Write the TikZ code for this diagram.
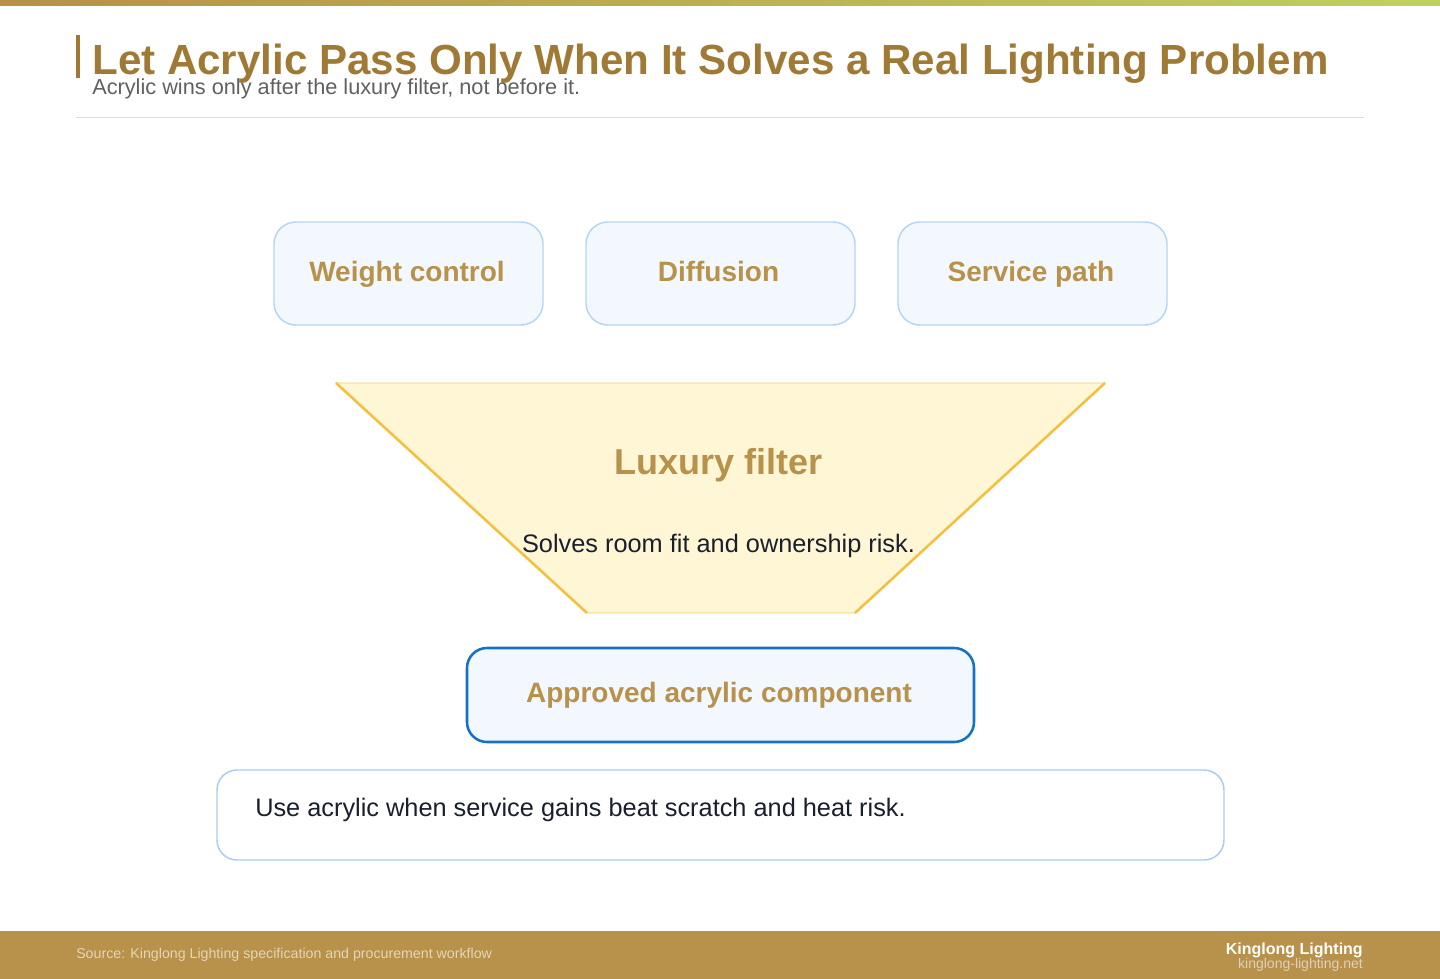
\documentclass[tikz,border=0pt]{standalone}
\usepackage{fontspec}
\setmainfont{Liberation Sans}
\definecolor{gold}{HTML}{B8914A}
\definecolor{titlegold}{HTML}{A07A35}
\definecolor{barleft}{HTML}{B89048}
\definecolor{barright}{HTML}{BFD05E}
\definecolor{boxfill}{HTML}{F3F8FE}
\definecolor{boxline}{HTML}{B5D5F5}
\definecolor{bluebold}{HTML}{1570C8}
\definecolor{notebox}{HTML}{A8CCF2}
\definecolor{funnelfill}{HTML}{FFF6D6}
\definecolor{funnelline}{HTML}{F4C03E}
\definecolor{inktext}{HTML}{1A1F2E}
\definecolor{subgray}{HTML}{606060}
\definecolor{sepgray}{HTML}{DDDDDD}
\definecolor{footsrc}{HTML}{E2D6BC}
\definecolor{footurl}{HTML}{DCD2C0}
\tikzset{
  optbox/.style={draw=boxline, line width=1.1pt, fill=boxfill, rounded corners=16.5pt,
    minimum width=201.75pt, minimum height=77.25pt, inner sep=0pt},
  boxlabel/.style={anchor=base, text=gold, font=\fontsize{21}{25}\selectfont\bfseries, inner sep=0pt},
  goalbox/.style={draw=bluebold, line width=1.9pt, fill=boxfill, rounded corners=15pt,
    minimum width=380.25pt, minimum height=70.5pt, inner sep=0pt},
  notebx/.style={draw=notebox, line width=1.1pt, fill=white, rounded corners=15pt,
    minimum width=755.25pt, minimum height=67.5pt, inner sep=0pt},
  bodytext/.style={text=inktext, font=\fontsize{19}{22}\selectfont, inner sep=0pt},
}
\begin{document}
\begin{tikzpicture}[x=0.75pt, y=-0.75pt]
\useasboundingbox (0,0) rectangle (1440,979);
% top gradient bar
\shade[left color=barleft, right color=barright] (0,0) rectangle (1440,5);
% title block
\fill[titlegold] (76,35) rectangle (80,78);
\node[anchor=base west, inner sep=0pt, text=titlegold, font=\fontsize{31.6}{36}\selectfont\bfseries] (title) at (92,74)
  {Let Acrylic Pass Only When It Solves a Real Lighting Problem};
\node[anchor=base west, inner sep=0pt, text=subgray, font=\fontsize{16.3}{19}\selectfont] (subtitle) at (92,94)
  {Acrylic wins only after the luxury filter, not before it.};
\draw[sepgray, line width=0.75pt] (76,117) -- (1364,117);
% three criteria boxes
\node[optbox] (weight) at (408.5,273.5) {};
\node[optbox] (diff) at (720.5,273.5) {};
\node[optbox] (serv) at (1032.5,273.5) {};
\node[boxlabel] (weightl) at (407,281) {Weight control};
\node[boxlabel] (diffl) at (718.5,281) {Diffusion};
\node[boxlabel] (servl) at (1031,281) {Service path};
% funnel
\coordinate (ftl) at (336,383);
\coordinate (ftr) at (1105,383);
\coordinate (fbr) at (855,613);
\coordinate (fbl) at (587,613);
\filldraw[fill=funnelfill, draw=funnelline!80, line width=0.6pt] (ftl) -- (ftr) -- (fbr) -- (fbl) -- cycle;
\draw[funnelline, line width=1.9pt] (ftl) -- (fbl);
\draw[funnelline, line width=1.9pt] (ftr) -- (fbr);
\node[anchor=base, inner sep=0pt, text=gold, font=\fontsize{27}{32}\selectfont\bfseries] (lux) at (718.5,474) {Luxury filter};
\node[anchor=base, bodytext] (solves) at (718.5,552) {Solves room fit and ownership risk.};
% approved box
\node[goalbox] (goal) at (720.5,695) {};
\node[boxlabel] (goall) at (719,702) {Approved acrylic component};
% note box
\node[notebx] (note) at (720.5,815) {};
\node[anchor=base west, bodytext] (notel) at (255,816) {Use acrylic when service gains beat scratch and heat risk.};
% footer
\fill[gold] (0,931) rectangle (1440,979);
\node[anchor=base west, inner sep=0pt, text=footsrc, font=\fontsize{10.65}{12}\selectfont] (src) at (76,958)
  {Source: Kinglong Lighting specification and procurement workflow};
\node[anchor=base east, inner sep=0pt, text=white, font=\fontsize{12}{14}\selectfont\bfseries] (brand) at (1363,954) {Kinglong Lighting};
\node[anchor=base east, inner sep=0pt, text=footurl, font=\fontsize{10.5}{12}\selectfont] (url) at (1363,968) {kinglong-lighting.net};
\end{tikzpicture}
\end{document}
